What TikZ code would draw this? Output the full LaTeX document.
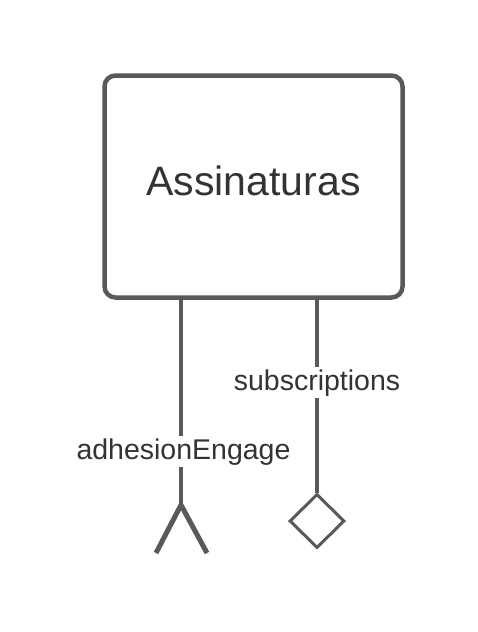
\documentclass[tikz,border=0pt]{standalone}
\usepackage{fontspec}
\setmainfont{Liberation Sans}
\usetikzlibrary{positioning, calc, shapes.geometric}
\definecolor{EdgeGray}{HTML}{595959}
\definecolor{InkGray}{HTML}{333333}

\begin{document}
\begin{tikzpicture}[x=1pt, y=-1pt,
    entity/.style={draw=EdgeGray, line width=4.5pt, rounded corners=11pt,
      minimum width=298pt, minimum height=222pt, text depth=12pt,
      text=InkGray, font=\fontsize{41}{48}\selectfont},
    rel/.style={draw=EdgeGray, line width=4pt},
    rolelabel/.style={fill=white, text=InkGray, inner sep=2pt,
      font=\fontsize{28.5}{34}\selectfont}]
\useasboundingbox (0,0) rectangle (478,632);

\node[entity] (assin) at (253.5,186.5) {Assinaturas};

% many side: crow's foot
\coordinate (fork) at (181,505);
\coordinate (toeL) at (156,553);
\coordinate (toeR) at (207,553);
\draw[rel] (assin.south -| fork) -- (fork)
    node[rolelabel, pos=0.74, xshift=2.5pt] (adh) {adhesionEngage};
\draw[rel, line width=5pt] (toeL) -- (fork) -- (toeR);

% aggregation side: diamond
\node[diamond, draw=EdgeGray, line width=3pt, inner sep=0pt,
      minimum width=55pt, minimum height=54pt] (agg) at (317,521) {};
\draw[rel] (assin.south -| agg) -- (agg.north)
    node[rolelabel, pos=0.43] (subs) {subscriptions};
\end{tikzpicture}
\end{document}
